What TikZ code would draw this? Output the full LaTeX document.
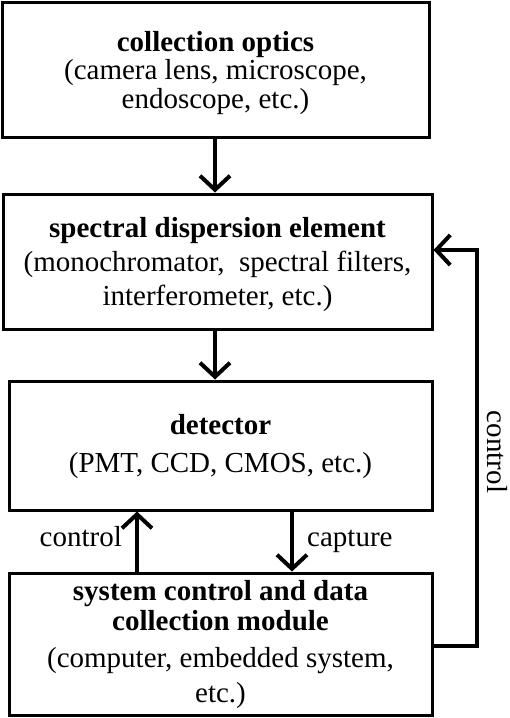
\documentclass[tikz,border=0pt]{standalone}
\usepackage{fontspec}
\setmainfont{Liberation Serif}
\usetikzlibrary{arrows.meta}
\begin{document}
\begin{tikzpicture}[x=1pt,y=-1pt,
  box/.style={draw, line width=3pt, minimum width=#1, inner sep=0pt},
  txt/.style={align=center, inner sep=0pt, font=\fontsize{29}{30}\selectfont},
  lbl/.style={inner sep=0pt, font=\fontsize{29}{30}\selectfont},
  conn/.style={line width=4pt, -{Straight Barb[length=14pt,width=30pt,line width=4pt]}}
]
\useasboundingbox (0,0) rectangle (510,718);
% boxes
\node[box=427pt, minimum height=135pt] (b1) at (215.5,69.5) {};
\node[box=429pt, minimum height=135pt] (b2) at (217.5,261.5) {};
\node[box=423pt, minimum height=129pt] (b3) at (220.5,445.5) {};
\node[box=423pt, minimum height=142pt] (b4) at (220.5,644) {};
% texts
\node[txt, font=\fontsize{29}{28.5}\selectfont] (t1) at (215.5,73) {\textbf{collection optics}\\(camera lens, microscope,\\endoscope, etc.)};
\node[txt] (t2) at (217.5,265) {\textbf{spectral dispersion element}\\[4pt](monochromator,\ \ spectral filters,\\[4pt]interferometer, etc.)};
\node[txt] (t3) at (220.5,447) {\textbf{detector}\\[8pt](PMT, CCD, CMOS, etc.)};
\node[txt] (t4) at (220.5,645) {\textbf{system control and data}\\\textbf{collection module}\\[7pt](computer, embedded system,\\[5pt]etc.)};
% vertical arrows
\draw[conn] (b1.south -| 215,0) -- (b2.north -| 215,0);
\draw[conn] (b2.south -| 215,0) -- (b3.north -| 215,0);
\draw[conn] (b4.north -| 137,0) -- (b3.south -| 137,0);
\draw[conn] (b3.south -| 292,0) -- (b4.north -| 292,0);
% feedback
\coordinate (f1) at (477,646);
\coordinate (f2) at (477,250);
\draw[conn, line join=miter] (b4.east |- f1) -- (f1) -- (f2) -- (b2.east |- f2);
% labels
\node[lbl, anchor=base east] (lc) at (122,546) {control};
\node[lbl, anchor=base west] (lp) at (307,546) {capture};
\node[lbl, rotate=-90] (lr) at (497,452) {control};
\end{tikzpicture}
\end{document}
